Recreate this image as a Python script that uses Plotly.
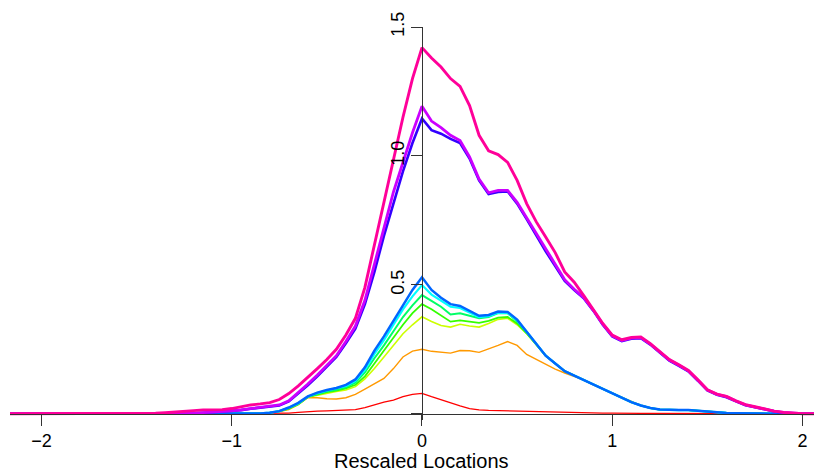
import plotly.graph_objects as go

# Rescaled locations (shared grid)
locations = [-2.2,
             -1.5, -1.45, -1.4, -1.35, -1.3, -1.25, -1.2, -1.15, -1.1, -1.05,
             -1.0, -0.95, -0.9, -0.85, -0.8, -0.75, -0.7, -0.65, -0.6, -0.55,
             -0.5, -0.45, -0.4, -0.35, -0.3, -0.25, -0.2, -0.15, -0.1, -0.05,
             0.0, 0.05, 0.1, 0.15, 0.2, 0.25, 0.3, 0.35, 0.4, 0.45,
             0.5, 0.55, 0.6, 0.65, 0.7, 0.75, 0.8, 0.85, 0.9, 0.95,
             1.0, 1.05, 1.1, 1.15, 1.2, 1.25, 1.3, 1.35, 1.4, 1.45,
             1.5, 1.55, 1.6, 1.65, 1.7, 1.75, 1.8, 1.85, 1.9, 1.95,
             2.0, 2.2]

s1 = [0, 0, 0, 0, 0, 0, 0, 0, 0, 0, 0,
      0, 0, 0, 0, 0, 0, 0.002, 0.005, 0.008, 0.01,
      0.011, 0.012, 0.013, 0.016, 0.024, 0.035, 0.045, 0.053, 0.066, 0.075,
      0.079, 0.066, 0.053, 0.042, 0.03, 0.02, 0.015, 0.013, 0.012, 0.011,
      0.009, 0.008, 0.007, 0.006, 0.005, 0.004, 0.003, 0.002, 0.002, 0.002,
      0.002, 0.001, 0.001, 0.001, 0.001, 0.001, 0.001, 0.001, 0.001, 0.001,
      0.001, 0, 0, 0, 0, 0, 0, 0, 0, 0,
      0, 0]

s2 = [0, 0, 0, 0, 0, 0, 0, 0, 0, 0, 0,
      0, 0, 0, 0.001, 0.003, 0.008, 0.016, 0.035, 0.062, 0.062,
      0.058, 0.057, 0.062, 0.075, 0.095, 0.117, 0.137, 0.175, 0.22, 0.243,
      0.25, 0.242, 0.238, 0.235, 0.245, 0.244, 0.238, 0.25, 0.265, 0.28,
      0.265, 0.23, 0.21, 0.19, 0.173, 0.158, 0.146, 0.131, 0.112, 0.096,
      0.08, 0.062, 0.045, 0.032, 0.022, 0.016, 0.014, 0.014, 0.014, 0.011,
      0.007, 0.005, 0.003, 0.002, 0.001, 0, 0, 0, 0, 0,
      0, 0]

s3 = [0, 0, 0, 0, 0, 0, 0, 0, 0, 0, 0,
      0, 0, 0, 0.001, 0.004, 0.009, 0.019, 0.036, 0.064, 0.072,
      0.08, 0.086, 0.092, 0.105, 0.135, 0.175, 0.22, 0.265, 0.31, 0.345,
      0.376, 0.358, 0.342, 0.336, 0.347, 0.34, 0.336, 0.35, 0.366, 0.37,
      0.345, 0.31, 0.268, 0.225, 0.195, 0.165, 0.148, 0.131, 0.112, 0.096,
      0.08, 0.062, 0.045, 0.032, 0.022, 0.016, 0.014, 0.014, 0.014, 0.011,
      0.007, 0.005, 0.003, 0.002, 0.001, 0, 0, 0, 0, 0,
      0, 0]

s4 = [0, 0, 0, 0, 0, 0, 0, 0, 0, 0, 0,
      0, 0, 0, 0.001, 0.004, 0.009, 0.02, 0.037, 0.065, 0.075,
      0.084, 0.09, 0.098, 0.112, 0.145, 0.195, 0.245, 0.295, 0.345, 0.39,
      0.425, 0.405, 0.38, 0.357, 0.362, 0.356, 0.352, 0.36, 0.373, 0.375,
      0.35, 0.312, 0.27, 0.225, 0.195, 0.165, 0.148, 0.131, 0.112, 0.096,
      0.08, 0.062, 0.045, 0.032, 0.022, 0.016, 0.014, 0.014, 0.014, 0.011,
      0.007, 0.005, 0.003, 0.002, 0.001, 0, 0, 0, 0, 0,
      0, 0]

s5 = [0, 0, 0, 0, 0, 0, 0, 0, 0, 0, 0,
      0, 0, 0, 0.001, 0.004, 0.01, 0.022, 0.038, 0.066, 0.077,
      0.087, 0.093, 0.103, 0.12, 0.16, 0.215, 0.265, 0.32, 0.375, 0.42,
      0.46, 0.438, 0.415, 0.385, 0.39, 0.38, 0.37, 0.375, 0.39, 0.39,
      0.358, 0.316, 0.27, 0.225, 0.195, 0.165, 0.148, 0.131, 0.112, 0.096,
      0.08, 0.062, 0.045, 0.032, 0.022, 0.016, 0.014, 0.014, 0.014, 0.011,
      0.007, 0.005, 0.003, 0.002, 0.001, 0, 0, 0, 0, 0,
      0, 0]

s6 = [0, 0, 0, 0, 0, 0, 0, 0, 0, 0, 0,
      0, 0, 0, 0.001, 0.004, 0.01, 0.023, 0.04, 0.066, 0.08,
      0.09, 0.098, 0.108, 0.127, 0.17, 0.232, 0.285, 0.345, 0.405, 0.455,
      0.499, 0.462, 0.438, 0.415, 0.41, 0.392, 0.375, 0.378, 0.392, 0.391,
      0.362, 0.318, 0.27, 0.225, 0.195, 0.165, 0.148, 0.131, 0.112, 0.096,
      0.08, 0.062, 0.045, 0.032, 0.022, 0.016, 0.014, 0.014, 0.014, 0.011,
      0.007, 0.005, 0.003, 0.002, 0.001, 0, 0, 0, 0, 0,
      0, 0]

s7 = [0, 0, 0, 0, 0, 0, 0, 0, 0, 0, 0,
      0, 0, 0, 0.001, 0.004, 0.01, 0.024, 0.042, 0.067, 0.082,
      0.092, 0.1, 0.112, 0.133, 0.18, 0.245, 0.3, 0.36, 0.425, 0.48,
      0.529, 0.48, 0.45, 0.425, 0.418, 0.398, 0.38, 0.383, 0.396, 0.395,
      0.365, 0.318, 0.27, 0.225, 0.195, 0.165, 0.148, 0.131, 0.112, 0.096,
      0.08, 0.062, 0.045, 0.032, 0.022, 0.016, 0.014, 0.014, 0.014, 0.011,
      0.007, 0.005, 0.003, 0.002, 0.001, 0, 0, 0, 0, 0,
      0, 0]

s8 = [0, 0, 0, 0, 0, 0, 0, 0.002, 0.004, 0.006, 0.008,
      0.01, 0.014, 0.019, 0.023, 0.026, 0.032, 0.048, 0.078, 0.11, 0.145,
      0.183, 0.22, 0.273, 0.33, 0.425, 0.55, 0.69, 0.82, 0.94, 1.05,
      1.145, 1.1, 1.086, 1.066, 1.05, 0.99, 0.905, 0.852, 0.86, 0.862,
      0.815, 0.755, 0.69, 0.63, 0.573, 0.515, 0.48, 0.448, 0.4, 0.345,
      0.3, 0.282, 0.291, 0.293, 0.268, 0.236, 0.206, 0.186, 0.164, 0.128,
      0.09, 0.073, 0.064, 0.048, 0.033, 0.025, 0.016, 0.009, 0.004, 0.001,
      0, 0]

s9 = [0, 0, 0, 0, 0, 0, 0, 0.002, 0.004, 0.006, 0.008,
      0.011, 0.015, 0.02, 0.025, 0.028, 0.034, 0.05, 0.082, 0.115, 0.15,
      0.188, 0.225, 0.28, 0.34, 0.44, 0.575, 0.72, 0.86, 0.975, 1.09,
      1.193, 1.135, 1.11, 1.08, 1.06, 0.996, 0.91, 0.857, 0.866, 0.866,
      0.82, 0.76, 0.695, 0.635, 0.578, 0.52, 0.483, 0.45, 0.402, 0.347,
      0.302, 0.284, 0.293, 0.295, 0.27, 0.238, 0.208, 0.188, 0.166, 0.13,
      0.092, 0.075, 0.066, 0.049, 0.034, 0.026, 0.017, 0.01, 0.005, 0.002,
      0, 0]

s10 = [0, 0, 0, 0.002, 0.004, 0.006, 0.008, 0.012, 0.015, 0.015, 0.016,
       0.02, 0.027, 0.034, 0.038, 0.043, 0.055, 0.078, 0.108, 0.14, 0.175,
       0.21, 0.25, 0.305, 0.37, 0.49, 0.655, 0.83, 0.99, 1.15, 1.3,
       1.42, 1.38, 1.345, 1.3, 1.27, 1.195, 1.08, 1.02, 1.005, 0.975,
       0.905, 0.815, 0.745, 0.685, 0.625, 0.55, 0.51, 0.458, 0.405, 0.35,
       0.305, 0.287, 0.296, 0.298, 0.272, 0.24, 0.21, 0.19, 0.168, 0.132,
       0.093, 0.076, 0.067, 0.05, 0.035, 0.027, 0.018, 0.01, 0.005, 0.002,
       0, 0]

series = [s1, s2, s3, s4, s5, s6, s7, s8, s9, s10]
colors = ["#FF0000", "#FF9900", "#CCFF00", "#33FF00", "#00FF66",
          "#00FFFF", "#0066FF", "#3300FF", "#CC00FF", "#FF0099"]
widths = [1.3, 1.4, 1.6, 1.8, 2.0, 2.2, 2.5, 2.6, 2.8, 2.9]

x_ticks = [-2, -1, 0, 1, 2]
y_ticks = [0, 0.5, 1.0, 1.5]
y_tick_text = ["", "0.5", "1.0", "1.5"]

x_range = [-2.165, 2.102]
y_range = [-0.0244, 1.5]

fig = go.Figure()
for vals, c, w in zip(series, colors, widths):
    fig.add_trace(go.Scatter(x=locations, y=vals, mode="lines",
                             line=dict(color=c, width=w),
                             showlegend=False, hoverinfo="skip"))

font = dict(family="Liberation Sans, Arial, Helvetica, sans-serif", size=18, color="black")
title_font = dict(family="Liberation Sans, Arial, Helvetica, sans-serif", size=20, color="black")
axis_col = "#333333"

# The page body has an 8px default margin, so the figure is sized/offset to suit.
fig.update_layout(
    width=814, height=462,
    margin=dict(l=2, r=0, t=19, b=50, autoexpand=False),
    plot_bgcolor="white", paper_bgcolor="white",
    font=font,
    xaxis=dict(range=x_range, anchor="free", automargin=False,
               position=(0 - y_range[0]) / (y_range[1] - y_range[0]),
               showline=True, linecolor=axis_col, linewidth=1,
               ticks="outside", ticklen=11, tickwidth=1, tickcolor=axis_col,
               tickvals=x_ticks, showgrid=False, zeroline=False,
               tickfont=font),
    yaxis=dict(range=y_range, anchor="free", automargin=False,
               position=(0 - x_range[0]) / (x_range[1] - x_range[0]),
               showline=True, linecolor=axis_col, linewidth=1,
               ticks="outside", ticklen=11, tickwidth=1, tickcolor=axis_col,
               tickvals=y_ticks, ticktext=y_tick_text, tickangle=-90,
               showgrid=False, zeroline=False, tickfont=font),
    annotations=[dict(text="Rescaled Locations", x=0, xref="x",
                      y=-0.104, yref="paper", yanchor="middle",
                      showarrow=False, font=title_font)],
)

fig.write_html("out.html")
